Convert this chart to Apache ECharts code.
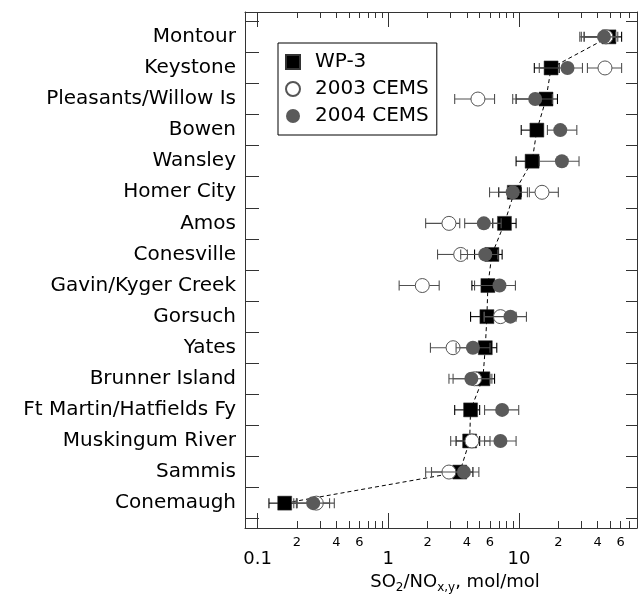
<!DOCTYPE html>
<html>
<head>
<meta charset="utf-8">
<script src="https://cdn.jsdelivr.net/npm/echarts@6/dist/echarts.min.js"></script>
<style>
  html, body { margin: 0; padding: 0; background: #fff; }
  #chart { width: 638px; height: 600px; }
</style>
</head>
<body>
<div id="chart"></div>
<script>
// plants, top to bottom
const plants = ['Montour', 'Keystone', 'Pleasants/Willow Is', 'Bowen', 'Wansley', 'Homer City', 'Amos',
  'Conesville', 'Gavin/Kyger Creek', 'Gorsuch', 'Yates', 'Brunner Island', 'Ft Martin/Hatfields Fy',
  'Muskingum River', 'Sammis', 'Conemaugh']

// SO2/NOy ratios (mol/mol) with low / high ends of the error bars
const wp3 = [48.8, 17.6, 16.1, 13.7, 12.6, 9.2, 7.74, 6.2, 5.78, 5.68, 5.52, 5.29, 4.26, 4.19, 3.52, 0.161]
const wp3Lo = [31.5, 13.1, 9.5, 10.4, 9.5, 7.0, 6.3, 4.57, 4.36, 4.26, 4.5, 4.1, 3.22, 3.3, 2.7, 0.122]
const wp3Hi = [61, 20.3, 19.7, 15.1, 13.9, 10.4, 9.5, 7.43, 7.5, 6.9, 6.76, 6.5, 5.0, 5.0, 4.44, 0.2]

const cems2003 = [46.3, 45.5, 4.85, null, null, 15.0, 2.91, 3.58, 1.82, 7.21, 3.13, 4.57, null, 4.36, 2.91, 0.281]
const cems2003Lo = [30, 33.4, 3.22, null, null, 12.0, 1.93, 2.38, 1.21, 5.4, 2.1, 3.13, null, 3.0, 1.93, 0.198]
const cems2003Hi = [57, 61, 6.5, null, null, 20.0, 3.52, 4.02, 2.45, 9.5, 4.4, 6.0, null, 6.0, 4.0, 0.386]

const cems2004 = [44.7, 23.5, 13.3, 20.7, 21.3, 8.95, 5.38, 5.52, 7.09, 8.6, 4.44, 4.32, 7.43, 7.21, 3.79, 0.266]
const cems2004Lo = [29.2, 14.3, 8.95, 16.5, 14.3, 5.95, 3.84, 3.58, 4.57, 5.43, 3.3, 2.91, 5.45, 5.45, 2.14, 0.189]
const cems2004Hi = [55, 30.6, 18, 27.7, 28.8, 11.6, 7.3, 6.88, 9.39, 11.4, 6.0, 6.2, 9.95, 9.5, 4.93, 0.355]

// x axis ticks and labels
const majorTicks = [0.1, 1, 10]
const minorTicks = [0.2, 0.3, 0.4, 0.5, 0.6, 0.7, 0.8, 0.9, 2, 3, 4, 5, 6, 7, 8, 9, 20, 30, 40, 50, 60, 70, 80]
const minorLabels = [0.2, 0.4, 0.6, 2, 4, 6, 20, 40, 60]

const FONT = 'DejaVu Sans'
const AXIS_COLOR = '#333'

const rows = (vals, lo, hi) => vals
  .map((v, i) => v == null ? null : [v, i, lo[i], hi[i]])
  .filter(d => d)

function errorBars(color) {
  return function (params, api) {
    const y = api.value(1)
    const a = api.coord([api.value(2), y])
    const b = api.coord([api.value(3), y])
    const h = 5
    const style = { stroke: color, lineWidth: 1.1, fill: null }
    return {
      type: 'group',
      children: [
        { type: 'line', shape: { x1: a[0], y1: a[1], x2: b[0], y2: b[1] }, style: style },
        { type: 'line', shape: { x1: a[0], y1: a[1] - h, x2: a[0], y2: a[1] + h }, style: style },
        { type: 'line', shape: { x1: b[0], y1: b[1] - h, x2: b[0], y2: b[1] + h }, style: style }
      ]
    }
  }
}

const halfSteps = plants.map((p, i) => i - 0.5).concat([plants.length - 0.5])
const firstDigit = v => String(Math.round(v / Math.pow(10, Math.floor(Math.log10(v) + 1e-9))))

const logAxis = (extra) => Object.assign({
  type: 'log',
  logBase: 10,
  min: 0.08,
  max: 80,
  gridIndex: 0,
  splitLine: { show: false },
  minorTick: { show: false },
  axisLine: { show: false, onZero: false },
  axisTick: { show: false },
  axisLabel: { show: false }
}, extra)

const option = {
  animation: false,
  backgroundColor: '#fff',
  textStyle: { fontFamily: FONT },
  grid: { left: 245, right: 1, top: 12, bottom: 72, outerBoundsMode: 'none', containLabel: false },
  legend: {
    data: [{ name: 'WP-3', icon: 'rect' }, { name: '2003 CEMS' }, { name: '2004 CEMS' }],
    orient: 'vertical',
    left: 278,
    top: 43,
    itemWidth: 14,
    itemHeight: 14,
    itemGap: 7,
    padding: [9, 8, 9, 7],
    borderColor: '#000',
    borderWidth: 1,
    selectedMode: false,
    textStyle: { fontFamily: FONT, fontSize: 20, color: '#000', lineHeight: 20, padding: [0, 0, 0, 10] }
  },
  xAxis: [
    logAxis({
      position: 'bottom',
      axisLine: { show: true, onZero: false, lineStyle: { color: AXIS_COLOR, width: 1 } },
      axisTick: { show: true, inside: true, length: 15, customValues: majorTicks, lineStyle: { color: AXIS_COLOR } },
      axisLabel: {
        show: true, customValues: majorTicks, margin: 22, fontFamily: FONT, fontSize: 18, color: '#000',
        formatter: v => String(+Number(v).toPrecision(3))
      },
      name: '{n|SO}{s|2}{n|/NO}{s|x,y}{n|, mol/mol}',
      nameLocation: 'middle',
      nameGap: 37,
      nameTextStyle: {
        padding: [0, 0, 0, 28],
        rich: {
          n: { fontFamily: FONT, fontSize: 18, color: '#000', lineHeight: 24 },
          s: { fontFamily: FONT, fontSize: 12, color: '#000', lineHeight: 10, verticalAlign: 'bottom' }
        }
      }
    }),
    logAxis({
      position: 'bottom',
      axisTick: { show: true, inside: true, length: 7, customValues: minorTicks, lineStyle: { color: AXIS_COLOR } },
      axisLabel: {
        show: true, customValues: minorLabels, margin: 8, fontFamily: FONT, fontSize: 13, color: '#000',
        formatter: firstDigit
      }
    }),
    logAxis({
      position: 'top',
      axisLine: { show: true, onZero: false, lineStyle: { color: AXIS_COLOR, width: 1 } },
      axisTick: { show: true, inside: true, length: 15, customValues: majorTicks, lineStyle: { color: AXIS_COLOR } }
    }),
    logAxis({
      position: 'top',
      axisTick: { show: true, inside: true, length: 6, customValues: minorTicks, lineStyle: { color: AXIS_COLOR } }
    })
  ],
  yAxis: [
    {
      type: 'value',
      position: 'left',
      inverse: true,
      min: -0.8,
      max: plants.length - 0.2,
      splitLine: { show: false },
      axisLine: { show: true, onZero: false, lineStyle: { color: AXIS_COLOR, width: 1 } },
      axisTick: { show: true, inside: true, length: 14, customValues: halfSteps, lineStyle: { color: AXIS_COLOR } },
      axisLabel: {
        customValues: plants.map((p, i) => i),
        margin: 9, fontFamily: FONT, fontSize: 20, color: '#000',
        formatter: v => plants[Math.round(v)]
      }
    },
    {
      type: 'value',
      position: 'right',
      inverse: true,
      min: -0.8,
      max: plants.length - 0.2,
      splitLine: { show: false },
      axisLine: { show: true, onZero: false, lineStyle: { color: AXIS_COLOR, width: 1 } },
      axisTick: { show: true, inside: true, length: 11, customValues: halfSteps, lineStyle: { color: AXIS_COLOR } },
      axisLabel: { show: false }
    }
  ],
  series: [
    {
      name: 'WP-3 err',
      type: 'custom',
      xAxisIndex: 0,
      yAxisIndex: 0,
      renderItem: errorBars('#000'),
      encode: { x: 0, y: 1 },
      data: rows(wp3, wp3Lo, wp3Hi),
      z: 2
    },
    {
      name: 'WP-3',
      type: 'line',
      xAxisIndex: 0,
      yAxisIndex: 0,
      symbol: 'rect',
      symbolSize: 14,
      showAllSymbol: true,
      itemStyle: { color: '#000', borderColor: '#333', borderWidth: 0.5 },
      lineStyle: { color: '#000', width: 1, type: [4, 3] },
      data: wp3.map((v, i) => [v, i]),
      z: 3
    },
    {
      name: '2003 CEMS err',
      type: 'custom',
      xAxisIndex: 0,
      yAxisIndex: 0,
      renderItem: errorBars('#505050'),
      encode: { x: 0, y: 1 },
      data: rows(cems2003, cems2003Lo, cems2003Hi),
      z: 4
    },
    {
      name: '2003 CEMS',
      type: 'scatter',
      xAxisIndex: 0,
      yAxisIndex: 0,
      symbol: 'circle',
      symbolSize: 14,
      itemStyle: { color: '#fff', borderColor: '#555', borderWidth: 1, opacity: 1 },
      data: rows(cems2003, cems2003Lo, cems2003Hi).map(d => [d[0], d[1]]),
      z: 5
    },
    {
      name: '2004 CEMS err',
      type: 'custom',
      xAxisIndex: 0,
      yAxisIndex: 0,
      renderItem: errorBars('#505050'),
      encode: { x: 0, y: 1 },
      data: rows(cems2004, cems2004Lo, cems2004Hi),
      z: 6
    },
    {
      name: '2004 CEMS',
      type: 'scatter',
      xAxisIndex: 0,
      yAxisIndex: 0,
      symbol: 'circle',
      symbolSize: 14,
      itemStyle: { color: '#5a5a5a', opacity: 1 },
      data: cems2004.map((v, i) => [v, i]),
      z: 7
    }
  ]
}

const chart = echarts.init(document.getElementById('chart'))
chart.setOption(option)
</script>
</body>
</html>
